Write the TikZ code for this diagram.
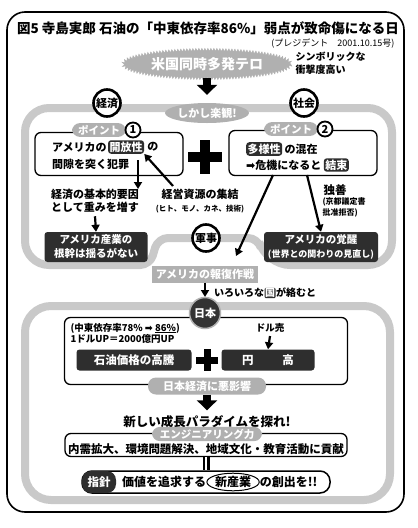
\documentclass[tikz,border=0pt]{standalone}
\usepackage{fontspec}
\setmainfont{Noto Sans CJK JP}
\newfontfamily\symf{DejaVu Sans}
\usetikzlibrary{arrows.meta,shapes.geometric,decorations.pathmorphing,calc}
\newcommand\myfs[2]{\fontsize{#1}{#2}\selectfont}
\begin{document}
\begin{tikzpicture}[x=1pt,y=-1pt,font=\bfseries,
  dark/.style={fill=black!82,text=white,rounded corners=3pt,inner sep=1.5pt},
  gpill/.style={fill=gray!62,text=white,rounded corners=8pt,inner xsep=6pt,inner ysep=2pt},
  ring/.style={circle,draw=black,line width=2.6pt,fill=white,inner sep=0pt,minimum size=27pt,font=\bfseries\myfs{11}{12}},
  band/.style={draw=gray!42,line width=8pt},
  tbox/.style={draw=black,line width=1.3pt,rounded corners=6pt,fill=white},
  arr/.style={line width=2.2pt,-{Triangle[length=7pt,width=8pt]}},
  bigarr/.style={line width=8pt,-{Triangle[length=10pt,width=20pt]}},
  plain/.style={inner sep=0pt,text=black},
  numc/.style={circle,draw,line width=1.8pt,fill=white,inner sep=0pt,minimum size=15pt,font=\bfseries\myfs{11}{12}}]

\useasboundingbox (0,0) rectangle (418,528);
\fill[white] (0,0) rectangle (418,528);

% outer frame
\draw[line width=1.6pt,rounded corners=18pt] (7,12) rectangle (404,512);

% title
\node[font=\bfseries\myfs{13.5}{15}] (title) at (208,28) {図5 寺島実郎 石油の「中東依存率86\%」弱点が致命傷になる日};
\node[font=\myfs{9}{10},anchor=east] (src) at (398,44) {(プレジデント　2001.10.15号)};

% gray bands
\draw[band,rounded corners=24pt] (25,108) -- (392,108) -- (392,265) -- (266,265) [rounded corners=10pt] -- (258,238) -- (158,238) -- (150,265) [rounded corners=24pt] -- (25,265) -- cycle;
\draw[band,rounded corners=26pt] (25,306) rectangle (390,500);

% top
\node[ellipse,fill=gray!62,draw=gray!62,minimum width=160,minimum height=26,decorate,
      decoration={zigzag,segment length=3pt,amplitude=1.5pt},text=white,
      font=\bfseries\myfs{14}{15}] (terror) at (207,64) {米国同時多発テロ};
\node[font=\bfseries\myfs{10}{13},align=left,anchor=west] (symb) at (292,63) {シンボリックな\\衝撃度高い};
\node[ellipse,fill=gray!62,text=white,font=\bfseries\myfs{11}{12},minimum width=70,minimum height=20,inner sep=0pt] (shikashi) at (207,113) {しかし楽観!};
\draw[bigarr,shorten >=8pt] (terror.south) -- (shikashi.north);

\node[ring] (keizai) at (107,103) {経済};
\node[ring] (shakai) at (304,103) {社会};

% point boxes
\node[tbox,minimum width=148,minimum height=43] (p1) at (109,154) {};
\node[tbox,minimum width=148,minimum height=45] (p2) at (303,153) {};
\node[gpill,font=\bfseries\myfs{10.5}{12}] (p1lab) at (99,130) {ポイント};
\node[numc] (n1) at (133,130) {1};
\node[gpill,font=\bfseries\myfs{10.5}{12}] (p2lab) at (291,129) {ポイント};
\node[numc] (n2) at (325,129) {2};

\begin{scope}[font=\bfseries\myfs{11}{13}]
\node[plain,anchor=west] (a1) at (52,147) {アメリカの};
\node[dark,anchor=west] (a2) at ([xshift=1pt]a1.east) {開放性};
\node[plain,anchor=west] (a3) at ([xshift=3pt]a2.east) {の};
\node[plain,anchor=west] (a4) at (52,164) {間隙を突く犯罪};
\node[dark,anchor=west] (b1) at (246,149) {多様性};
\node[plain,anchor=west] (b2) at ([xshift=2pt]b1.east) {の混在};
\node[plain,anchor=west] (b3) at (246,165) {{\symf ➡}危機になると};
\node[dark,anchor=west] (b4) at ([xshift=2pt]b3.east) {結束};
\end{scope}

% plus
\draw[line width=10pt] (188,157) -- (222,157) (205,140) -- (205,174);

% left branch
\coordinate (p1a) at (138,160);
\coordinate (p1b) at (138,189);
\draw[arr] (p1a) -- (p1b);
\node[font=\bfseries\myfs{11}{13},align=center] (kihon) at (95,201) {経済の基本的要因\\として重みを増す};
\node[dark,align=center,font=\bfseries\myfs{10.5}{14},minimum width=103,minimum height=30] (sangyo) at (96,247) {アメリカ産業の\\根幹は揺るがない};
\draw[arr] (kihon.south) -- (sangyo.north);

\node[align=center,font=\bfseries\myfs{11}{13}] (shigen) at (200,201) {経営資源の集結\\{\myfs{7.5}{9}(ヒト、モノ、カネ、技術)}};
\coordinate (sg) at (173,186);
\draw[arr] (sg) -- (a2.south east);

% center
\node[ring] (gunji) at (206,238) {軍事};
\node[fill=gray!62,text=white,minimum width=106,minimum height=17,inner sep=0pt,font=\bfseries\myfs{11}{12}] (hofuku) at (205,274) {アメリカの報復作戦};
\coordinate (p2a) at (273,175);
\coordinate (p2b) at (236,256);
\draw[arr] (p2a) -- (p2b);

% right branch
\node[dark,align=center,font=\bfseries\myfs{10.5}{14},minimum width=114,minimum height=30] (kakusei) at (321,247) {アメリカの覚醒\\{\myfs{9}{12}(世界との関わりの見直し)}};
\coordinate (p2c) at (307,175);
\draw[arr] (p2c) -- (kakusei.north);
\node[anchor=west,font=\bfseries\myfs{11.5}{12}] (dokuzen) at (320,190) {独善};
\node[anchor=west,align=left,font=\bfseries\myfs{8}{11}] (kyoto) at (319,207) {(京都議定書\\批准拒否)};

% to Japan
\coordinate (hk) at (205,297);
\draw[arr] (hofuku.south) -- (hk);
\begin{scope}[font=\bfseries\myfs{10}{12}]
\node[plain,anchor=west] (i1) at (214,293) {いろいろな};
\node[dark,anchor=west,inner sep=0.5pt,rounded corners=1pt] (i2) at (i1.east) {国};
\node[plain,anchor=west] (i3) at (i2.east) {が絡むと};
\end{scope}

\node[tbox,minimum width=283,minimum height=67] (jbox) at (206,351) {};
\node[circle,fill=black!80,draw=gray!60,line width=1.5pt,text=white,minimum size=31pt,inner sep=0pt,font=\bfseries\myfs{11}{12}] (nihon) at (205,313) {日本};
\node[anchor=west,align=left,font=\bfseries\myfs{9.5}{11}] (izon) at (67,333) {(中東依存率78\% {\symf ➡} \underline{86\%})\\1ドルUP＝2000億円UP};
\node[font=\bfseries\myfs{9.5}{11}] (doru) at (270,328) {ドル売};
\node[dark,minimum width=115,minimum height=21,font=\bfseries\myfs{11.5}{12}] (sekiyu) at (134,360) {石油価格の高騰};
\node[dark,minimum width=93,minimum height=21,font=\bfseries\myfs{11.5}{12}] (endaka) at (268,360) {円\hspace{2.5em}高};
\draw[arr] (doru.south) -- (endaka.north);
\draw[line width=7pt] (196,360) -- (218,360) (207,349) -- (207,371);

\node[gpill,minimum width=118,minimum height=17,font=\bfseries\myfs{11}{12}] (akuei) at (207,386) {日本経済に悪影響};
\node[font=\bfseries\myfs{12.5}{14}] (paradigm) at (207,422) {新しい成長パラダイムを探れ!};
\draw[bigarr,shorten >=2pt] (akuei.south) -- (paradigm.north);

\node[tbox,minimum width=282,minimum height=23] (engbox) at (206,445) {};
\node[gpill,minimum width=110,font=\bfseries\myfs{10.5}{12}] (eng) at (207,434) {エンジニアリング力};
\node[font=\bfseries\myfs{11.5}{12}] (naiju) at (206,449) {内需拡大、環境問題解決、地域文化・教育活動に貢献};

\node[draw,line width=1.5pt,rounded corners=10pt,minimum width=248,minimum height=22,fill=white] (shishin) at (206,482) {};
\node[fill=black!82,text=white,rounded corners=9pt,minimum width=34,minimum height=22,inner sep=0pt,font=\bfseries\myfs{11.5}{12}] (shishinlab) at (99,482) {指針};
\draw[line width=2.5pt,double=white,double distance=2pt] (engbox.south) -- (shishin.north);
\begin{scope}[font=\bfseries\myfs{12}{13}]
\node[plain,anchor=west] (c1) at (122,482) {価値を追求する};
\node[ellipse,draw,line width=1pt,inner sep=0.5pt,anchor=west] (c2) at (c1.east) {新産業};
\node[plain,anchor=west] (c3) at (c2.east) {の創出を!!};
\end{scope}
\end{tikzpicture}
\end{document}
